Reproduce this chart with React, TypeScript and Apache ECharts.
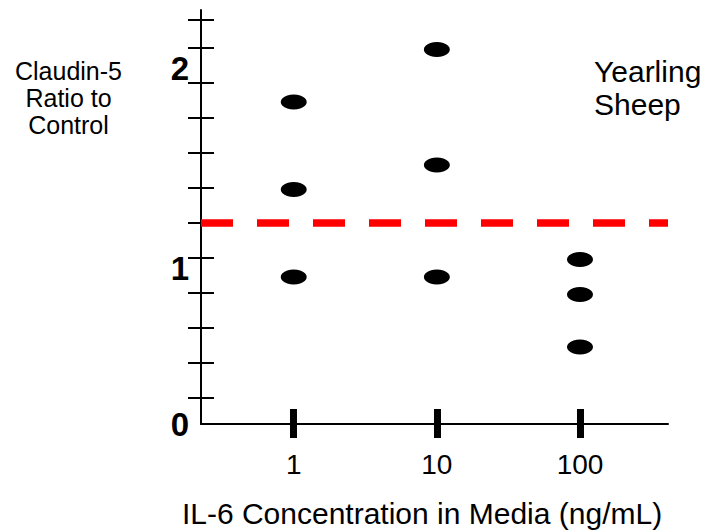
import React, { useEffect, useRef } from "react";
import * as echarts from "echarts";

const concentrations = [1, 10, 100];
const concentrationLabels = ["1", "10", "100"];
const ratioAt1 = [1.89, 1.39, 0.89];
const ratioAt10 = [2.19, 1.53, 0.89];
const ratioAt100 = [0.99, 0.79, 0.49];
const controlLevel = 1.2;
const yTickValues = [0.2, 0.4, 0.6, 0.8, 1.0, 1.2, 1.4, 1.6, 1.8, 2.0, 2.2, 2.36];
const yTickLabels = ["0", "1", "2"];

const FONT = "'Liberation Sans', Arial, Helvetica, sans-serif";

export default function App() {
  const ref = useRef<HTMLDivElement>(null);
  useEffect(() => {
    if (!ref.current) return;
    const chart = echarts.init(ref.current, null, { renderer: "svg" });
    const points: number[][] = [];
    [ratioAt1, ratioAt10, ratioAt100].forEach((arr, i) =>
      arr.forEach((v) => points.push([concentrations[i], v]))
    );
    const yMin = 0.05;
    const yMax = 2.415;
    const yLabelPos = [0.05, 0.94, 2.08];
    const xMin = 0.225;
    const xMax = 412;
    const labelMap: Record<string, string> = {};
    concentrations.forEach((c, i) => (labelMap[String(c)] = concentrationLabels[i]));

    chart.setOption({
      animation: false,
      backgroundColor: "#ffffff",
      grid: { left: 201, right: 40, top: 10, bottom: 107, containLabel: false },
      xAxis: [
        {
          type: "log",
          logBase: 10,
          min: xMin,
          max: xMax,
          position: "bottom",
          axisLine: { show: true, onZero: false, lineStyle: { color: "#000", width: 2 } },
          axisTick: { show: true, inside: false, length: 14, customValues: concentrations, lineStyle: { color: "#000", width: 7 } },
          axisLabel: {
            show: true,
            customValues: concentrations,
            formatter: (v: number) => labelMap[String(Math.round(v))] ?? String(v),
            fontSize: 28,
            fontFamily: FONT,
            color: "#000",
            margin: 26,
          },
          splitLine: { show: false },
          minorTick: { show: false },
        },
        {
          type: "log",
          logBase: 10,
          min: xMin,
          max: xMax,
          position: "bottom",
          axisLine: { show: false, onZero: false },
          axisTick: { show: true, inside: true, length: 15, customValues: concentrations, lineStyle: { color: "#000", width: 7 } },
          axisLabel: { show: false },
          splitLine: { show: false },
        },
      ],
      yAxis: [
        {
          type: "value",
          min: yMin,
          max: yMax,
          position: "left",
          axisLine: { show: true, onZero: false, lineStyle: { color: "#000", width: 2 } },
          axisTick: { show: true, inside: false, length: 13, customValues: yTickValues, lineStyle: { color: "#000", width: 2 } },
          axisLabel: {
            show: true,
            customValues: yLabelPos,
            formatter: (v: number) => yTickLabels[Math.round(v)] ?? "",
            fontSize: 33,
            fontWeight: "bold",
            fontFamily: FONT,
            color: "#000",
            margin: 12,
          },
          splitLine: { show: false },
        },
        {
          type: "value",
          min: yMin,
          max: yMax,
          position: "left",
          offset: 0,
          axisLine: { show: false, onZero: false },
          axisTick: { show: true, inside: true, length: 13, customValues: yTickValues, lineStyle: { color: "#000", width: 2 } },
          axisLabel: { show: false },
          splitLine: { show: false },
        },
      ],
      series: [
        {
          type: "scatter",
          xAxisIndex: 0,
          yAxisIndex: 0,
          data: points,
          symbol: "circle",
          symbolSize: [26, 15],
          itemStyle: { color: "#000", opacity: 1 },
          markLine: {
            silent: true,
            symbol: ["none", "none"],
            label: { show: false },
            lineStyle: { color: "#ff0000", width: 7.5, type: [32, 24], opacity: 1 },
            data: [{ yAxis: controlLevel }],
          },
        },
      ],
      graphic: [
        {
          type: "text",
          x: 594,
          y: 55,
          style: {
            text: "Yearling\nSheep",
            font: `30px ${FONT}`,
            fill: "#000",
            verticalAlign: "top",
            lineHeight: 33,
          },
        },
        {
          type: "text",
          x: 68.5,
          y: 57,
          style: {
            text: "Claudin-5\nRatio to\nControl",
            font: `25px ${FONT}`,
            fill: "#000",
            align: "center",
            verticalAlign: "top",
            lineHeight: 27,
          },
        },
        {
          type: "text",
          x: 422,
          y: 498,
          style: {
            text: "IL-6 Concentration in Media (ng/mL)",
            font: `30px ${FONT}`,
            fill: "#000",
            align: "center",
            verticalAlign: "top",
          },
        },
      ],
    });
    return () => chart.dispose();
  }, []);
  return <div ref={ref} style={{ position: "fixed", left: 0, top: 0, width: 708, height: 531 }} />;
}
